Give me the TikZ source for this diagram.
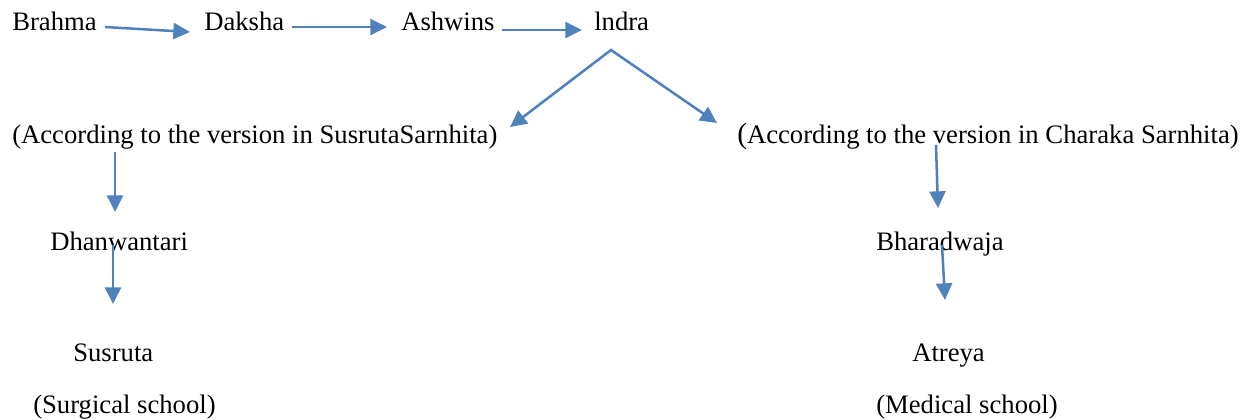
\documentclass[tikz,border=0pt]{standalone}
\usepackage{fontspec}
\setmainfont{Liberation Serif}
\usetikzlibrary{arrows.meta}
\definecolor{linkblue}{RGB}{79,129,189}
\tikzstyle{seer} = [inner sep=0pt, anchor=base west, font=\fontsize{20}{24}\selectfont]
\tikzstyle{link} = [draw=linkblue, line width=1.9pt, -{Triangle[length=12.5pt,width=12pt]}]
\tikzstyle{fork} = [draw=linkblue, line width=1.9pt, {Triangle[length=12.5pt,width=12pt]}-{Triangle[length=12.5pt,width=12pt]}]

\begin{document}
\begin{tikzpicture}[x=0.75pt, y=-0.75pt]
        \useasboundingbox (0,0) rectangle (1250,419);
        % lineage
        \node (brahma) [seer] at (12,30) {Brahma};
        \node (daksha) [seer] at (204,30) {Daksha};
        \node (ashwins) [seer] at (401,30) {Ashwins};
        \node (indra) [seer] at (594,30) {lndra};
        \node (susvers) [seer] at (12,143) {(According to the version in SusrutaSarnhita)};
        \node (charvers) [seer] at (737,143) {\fontsize{22}{24}\selectfont(\fontsize{20}{24}\selectfont According to the version in Charaka Sarnhita)};
        \node (dhan) [seer] at (50,250) {Dhanwantari};
        \node (bhar) [seer] at (876,250) {Bharadwaja};
        \node (susruta) [seer] at (73,361) {Susruta};
        \node (atreya) [seer] at (912,361) {Atreya};
        \node (surg) [seer] at (33,413) {(Surgical school)};
        \node (med) [seer] at (876,413) {(Medical school)};
        % arrow ends
        \coordinate (a1) at (105,27);
        \coordinate (a2) at (190,32);
        \coordinate (a3) at (292,27);
        \coordinate (a4) at (387,27);
        \coordinate (a5) at (502,30);
        \coordinate (a6) at (582,30);
        \coordinate (apex) at (611,50);
        \coordinate (fl) at (510,127);
        \coordinate (fr) at (717,123);
        \coordinate (l1) at (115,152);
        \coordinate (l2) at (115,212);
        \coordinate (l3) at (113,245);
        \coordinate (l4) at (113,304);
        \coordinate (r1) at (936,145);
        \coordinate (r2) at (938,208);
        \coordinate (r3) at (942,245);
        \coordinate (r4) at (945,300);
        \draw [link] (a1) -- (a2);
        \draw [link] (a3) -- (a4);
        \draw [link] (a5) -- (a6);
        \draw [fork] (fl) -- (apex) -- (fr);
        \draw [link] (l1) -- (l2);
        \draw [link] (l3) -- (l4);
        \draw [link] (r1) -- (r2);
        \draw [link] (r3) -- (r4);
\end{tikzpicture}
\end{document}
